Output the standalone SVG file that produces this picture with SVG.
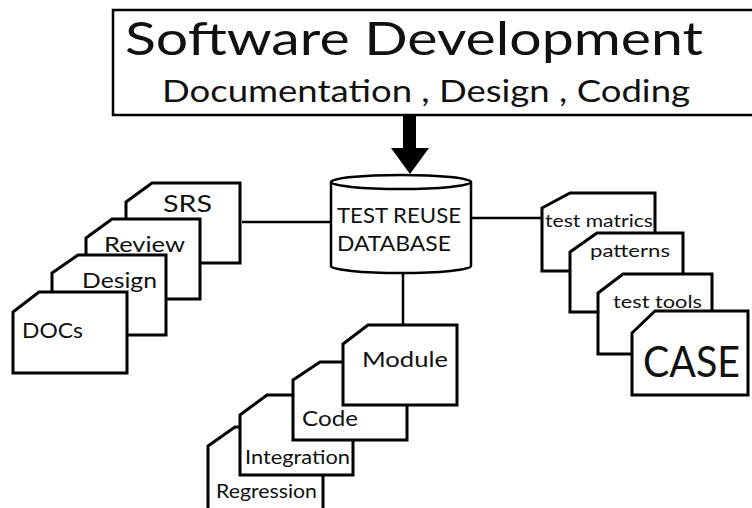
<svg xmlns="http://www.w3.org/2000/svg" width="752" height="508" viewBox="0 0 752 508">
<style>
  text { font-family: Lato, "Open Sans", "Liberation Sans", sans-serif; fill: #111; }
  .card { fill: #fff; stroke: #000; stroke-width: 3; stroke-linejoin: miter; }
  .conn { stroke: #000; stroke-width: 2.5; fill: none; }
  .db { fill: #fff; stroke: #000; stroke-width: 2.5; }
</style>
<rect x="0" y="0" width="752" height="508" fill="#fff"/>

<g id="software-development">
  <rect x="113" y="10" width="645" height="105" fill="#fff" stroke="#000" stroke-width="2.5"/>
  <text x="125" y="55" font-size="47" textLength="578" lengthAdjust="spacingAndGlyphs">Software Development</text>
  <text x="162" y="102" font-size="31" textLength="528" lengthAdjust="spacingAndGlyphs">Documentation , Design , Coding</text>
</g>

<g id="connectors">
  <rect x="403" y="116" width="13" height="34" fill="#000"/>
  <polygon points="391,148 429,148 410,174" fill="#000"/>
  <line class="conn" x1="242" y1="222" x2="332" y2="222"/>
  <line class="conn" x1="470" y1="218" x2="543" y2="218"/>
  <line class="conn" x1="403" y1="272" x2="403" y2="326"/>
</g>

<g id="test-reuse-database">
  <path class="db" d="M331,182 L331,266 A70,7 0 0 0 471,266 L471,182"/>
  <ellipse class="db" cx="401" cy="182" rx="70" ry="7"/>
  <text x="337" y="223" font-size="22" textLength="124" lengthAdjust="spacingAndGlyphs">TEST REUSE</text>
  <text x="337" y="251" font-size="22" textLength="114" lengthAdjust="spacingAndGlyphs">DATABASE</text>
</g>

<g id="srs">
  <path class="card" d="M126,202 L152,183 L240,183 L240,263 L126,263 Z"/>
  <text x="163" y="212" font-size="24" textLength="49" lengthAdjust="spacingAndGlyphs">SRS</text>
</g>
<g id="review">
  <path class="card" d="M86,238 L112,219 L200,219 L200,299 L86,299 Z"/>
  <text x="104" y="252" font-size="22" textLength="81" lengthAdjust="spacingAndGlyphs">Review</text>
</g>
<g id="design">
  <path class="card" d="M52,273 L78,255 L166,255 L166,335 L52,335 Z"/>
  <text x="82" y="288" font-size="22" textLength="75" lengthAdjust="spacingAndGlyphs">Design</text>
</g>
<g id="docs">
  <path class="card" d="M13,312 L39,292 L127,292 L127,373 L13,373 Z"/>
  <text x="22" y="338" font-size="21" textLength="61" lengthAdjust="spacingAndGlyphs">DOCs</text>
</g>

<g id="test-matrics">
  <path class="card" d="M542,208 L570,193 L655,193 L655,271 L542,271 Z"/>
  <text x="545" y="227" font-size="17.5" textLength="108" lengthAdjust="spacingAndGlyphs">test matrics</text>
</g>
<g id="patterns">
  <path class="card" d="M570,252 L597,233 L683,233 L683,312 L570,312 Z"/>
  <text x="590" y="257" font-size="17.5" textLength="80" lengthAdjust="spacingAndGlyphs">patterns</text>
</g>
<g id="test-tools">
  <path class="card" d="M598,293 L623,274 L712,274 L712,354 L598,354 Z"/>
  <text x="613" y="308" font-size="17.5" textLength="89" lengthAdjust="spacingAndGlyphs">test tools</text>
</g>
<g id="case">
  <path class="card" d="M632,333 L655,311 L748,311 L748,395 L632,395 Z"/>
  <text x="643" y="377" font-size="42" textLength="97" lengthAdjust="spacingAndGlyphs">CASE</text>
</g>

<g id="regression">
  <path class="card" d="M208,446 L235,427 L323,427 L323,520 L208,520 Z"/>
  <text x="216" y="498" font-size="18.5" textLength="101" lengthAdjust="spacingAndGlyphs">Regression</text>
</g>
<g id="integration">
  <path class="card" d="M240,415 L267,395 L353,395 L353,475 L240,475 Z"/>
  <text x="245" y="464" font-size="18.5" textLength="105" lengthAdjust="spacingAndGlyphs">Integration</text>
</g>
<g id="code">
  <path class="card" d="M293,380 L320,362 L407,362 L407,440 L293,440 Z"/>
  <text x="302" y="426" font-size="21" textLength="56" lengthAdjust="spacingAndGlyphs">Code</text>
</g>
<g id="module">
  <path class="card" d="M343,344 L368,325 L457,325 L457,405 L343,405 Z"/>
  <text x="362" y="367" font-size="21" textLength="86" lengthAdjust="spacingAndGlyphs">Module</text>
</g>
</svg>
